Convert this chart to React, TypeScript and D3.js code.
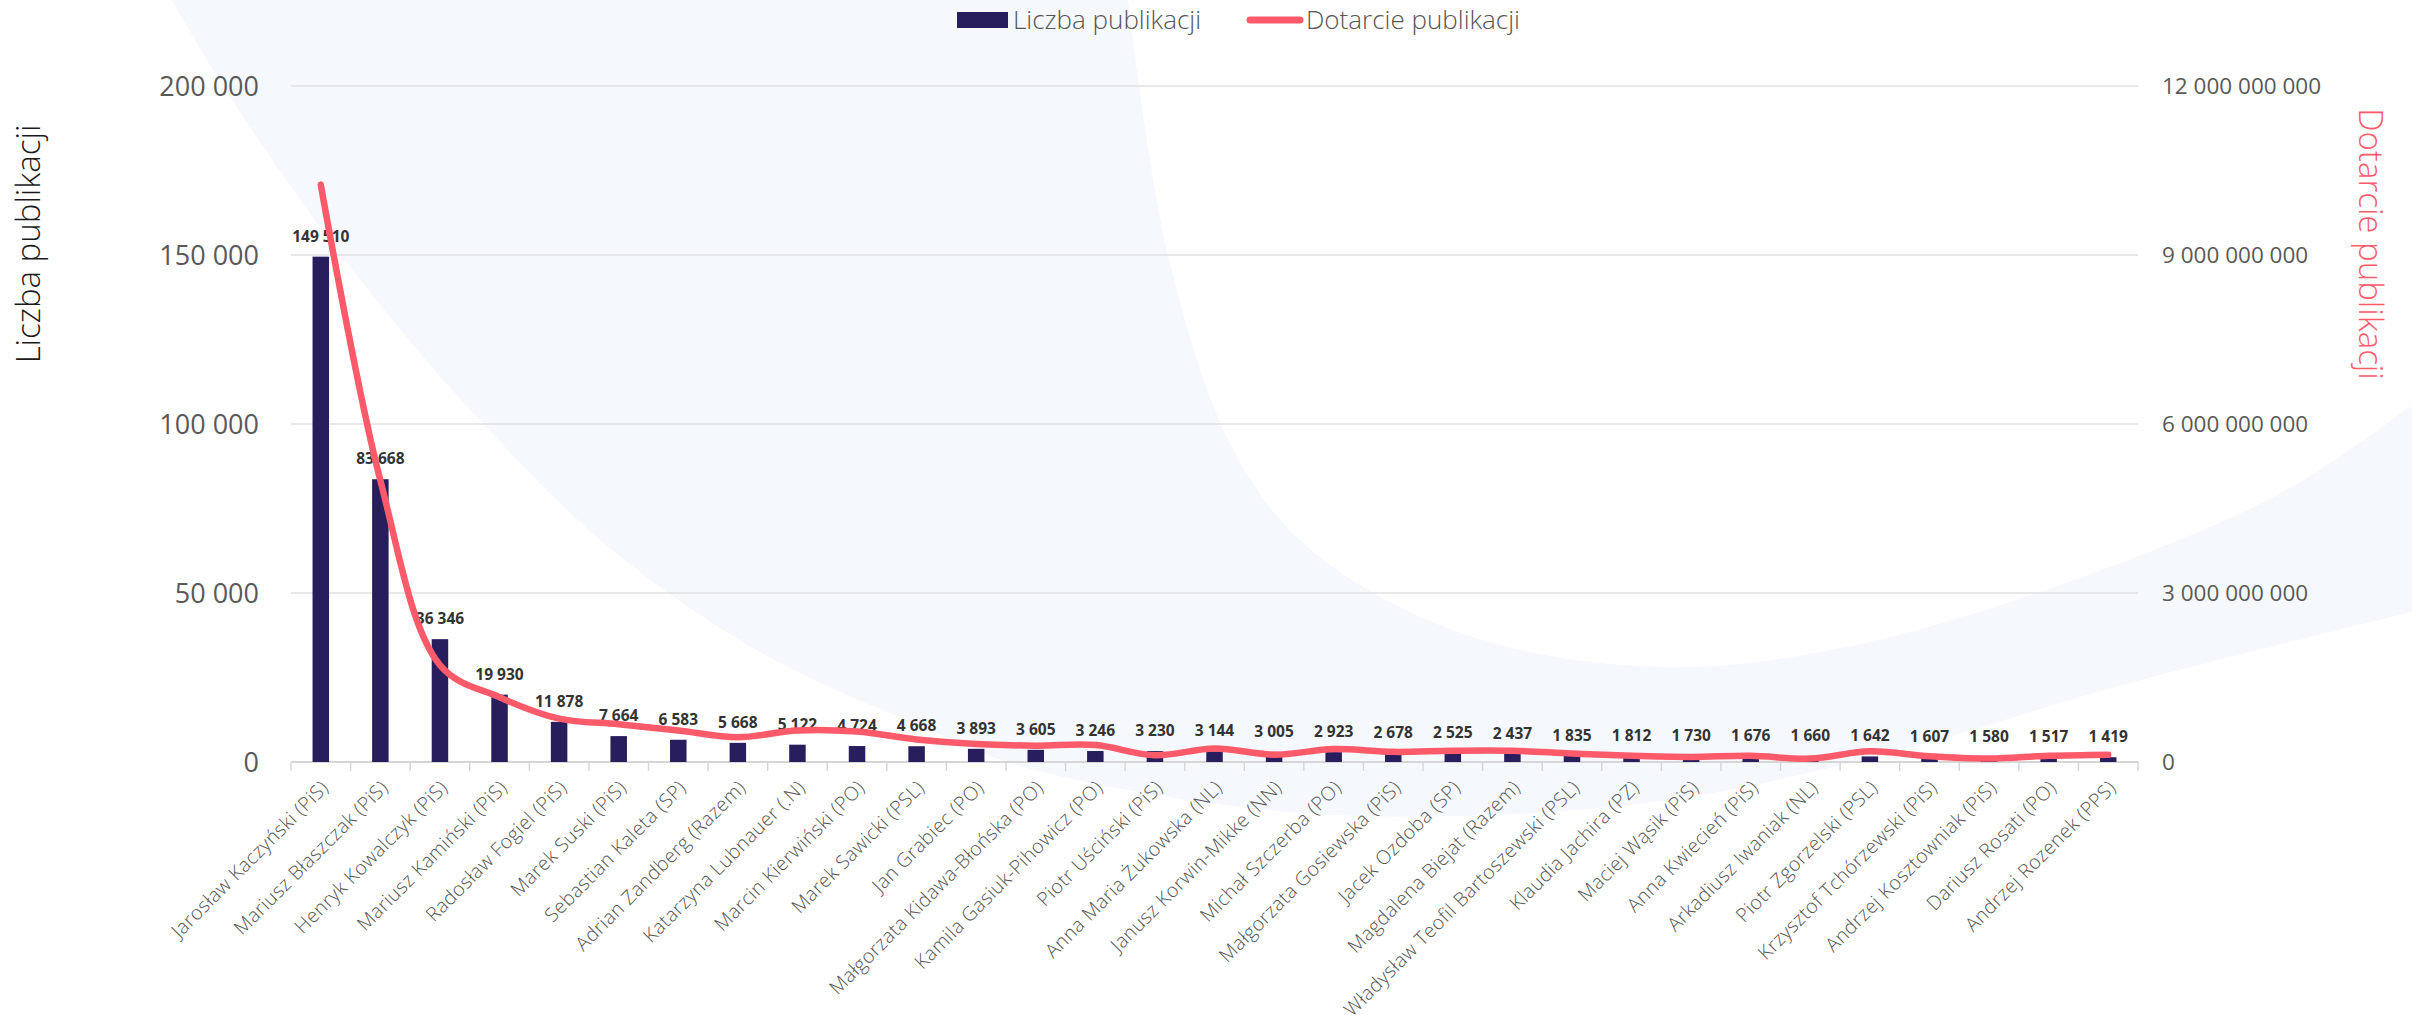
import React from "react";
import * as d3 from "d3";

const names = [
  "Jarosław Kaczyński (PiS)",
  "Mariusz Błaszczak (PiS)",
  "Henryk Kowalczyk (PiS)",
  "Mariusz Kamiński (PiS)",
  "Radosław Fogiel (PiS)",
  "Marek Suski (PiS)",
  "Sebastian Kaleta (SP)",
  "Adrian Zandberg (Razem)",
  "Katarzyna Lubnauer (.N)",
  "Marcin Kierwiński (PO)",
  "Marek Sawicki (PSL)",
  "Jan Grabiec (PO)",
  "Małgorzata Kidawa-Błońska (PO)",
  "Kamila Gasiuk-Pihowicz (PO)",
  "Piotr Uściński (PiS)",
  "Anna Maria Żukowska (NL)",
  "Janusz Korwin-Mikke (NN)",
  "Michał Szczerba (PO)",
  "Małgorzata Gosiewska (PiS)",
  "Jacek Ozdoba (SP)",
  "Magdalena Biejat (Razem)",
  "Władysław Teofil Bartoszewski (PSL)",
  "Klaudia Jachira (PZ)",
  "Maciej Wąsik (PiS)",
  "Anna Kwiecień (PiS)",
  "Arkadiusz Iwaniak (NL)",
  "Piotr Zgorzelski (PSL)",
  "Krzysztof Tchórzewski (PiS)",
  "Andrzej Kosztowniak (PiS)",
  "Dariusz Rosati (PO)",
  "Andrzej Rozenek (PPS)",
];

const publications = [
  149510, 83668, 36346, 19930, 11878, 7664, 6583, 5668, 5122, 4724, 4668, 3893,
  3605, 3246, 3230, 3144, 3005, 2923, 2678, 2525, 2437, 1835, 1812, 1730, 1676,
  1660, 1642, 1607, 1580, 1517, 1419,
];

const reach = [
  10.25e9, 5.0e9, 1.72e9, 1.15e9, 0.77e9, 0.67e9, 0.56e9, 0.44e9, 0.56e9, 0.54e9,
  0.4e9, 0.32e9, 0.29e9, 0.3e9, 0.12e9, 0.24e9, 0.13e9, 0.23e9, 0.18e9, 0.2e9,
  0.2e9, 0.15e9, 0.11e9, 0.09e9, 0.11e9, 0.06e9, 0.19e9, 0.1e9, 0.06e9, 0.11e9,
  0.13e9,
];

const leftTicks = [0, 50000, 100000, 150000, 200000];
const rightTicks = [0, 3e9, 6e9, 9e9, 12e9];
const seriesNames = ["Liczba publikacji", "Dotarcie publikacji"];

// decorative background curves
const bgOuter: [number, number][] = [
  [172, 0], [230, 97], [344, 259], [474, 414], [612, 550], [765, 655], [918, 725],
  [1027, 768], [1268, 810], [1464, 816], [1683, 798], [1901, 750], [2119, 686], [2412, 612],
];
const bgInner: [number, number][] = [
  [2412, 405], [2283, 492], [2065, 583], [1846, 647], [1661, 667], [1464, 634],
  [1311, 550], [1235, 453], [1169, 259], [1128, 0],
];

const W = 2412;
const H = 1015;
const M = { left: 291, right: 2138, top: 86, bottom: 762 };
const BAR = "#281E5D";
const LINE = "#FF5A6A";
const FONT = "'Open Sans', 'Noto Sans', sans-serif";

const fmt = d3
  .formatLocale({ decimal: ",", thousands: " ", grouping: [3], currency: ["", ""] })
  .format(",.0f");

export default function App() {
  const x = d3.scaleBand<string>().domain(names).range([M.left, M.right]).padding(0);
  const yL = d3.scaleLinear().domain([0, 200000]).range([M.bottom, M.top]);
  const yR = d3.scaleLinear().domain([0, 12e9]).range([M.bottom, M.top]);
  const bw = x.bandwidth();
  const barW = bw * 0.277;
  const cx = (n: string) => (x(n) as number) + bw / 2;

  const linePath =
    d3
      .line<number>()
      .x((_, i) => cx(names[i]))
      .y((v) => yR(v))
      .curve(d3.curveCatmullRom.alpha(0.5))(reach) || "";

  const outer = d3.line().curve(d3.curveCatmullRom.alpha(0.5))(bgOuter) || "";
  const inner = d3.line().curve(d3.curveCatmullRom.alpha(0.5))(bgInner) || "";
  const bgPath = outer + "L" + inner.slice(1) + "Z";

  const boundaries = d3.range(names.length + 1).map((i) => M.left + i * bw);

  return (
    <svg
      width={W}
      height={H}
      style={{ position: "fixed", left: 0, top: 0, background: "#fff" }}
      fontFamily={FONT}
    >
      <path d={bgPath} fill="#F5F9FE" />

      {/* gridlines */}
      {leftTicks.map((t) => (
        <line
          key={"g" + t}
          x1={M.left}
          x2={M.right}
          y1={yL(t)}
          y2={yL(t)}
          stroke={t === 0 ? "#d6d6d6" : "#e0e0e0"}
          strokeWidth={t === 0 ? 2 : 1.5}
        />
      ))}
      {boundaries.map((b, i) => (
        <line key={"t" + i} x1={b} x2={b} y1={M.bottom} y2={M.bottom + 9} stroke="#d6d6d6" strokeWidth={1.5} />
      ))}

      {/* left ticks */}
      {leftTicks.map((t) => (
        <text
          key={"l" + t}
          x={259}
          y={yL(t)}
          dy="0.36em"
          textAnchor="end"
          fontSize={27}
          fill="#595959"
        >
          {fmt(t)}
        </text>
      ))}
      {/* right ticks */}
      {rightTicks.map((t) => (
        <text key={"r" + t} x={2162} y={yR(t)} dy="0.36em" fontSize={22.5} fill="#595959">
          {fmt(t)}
        </text>
      ))}

      {/* axis titles */}
      <text
        transform={`translate(40, 244) rotate(-90)`}
        textAnchor="middle"
        fontSize={33}
        fontWeight={300}
        fill="#1a1a1a"
      >
        {seriesNames[0]}
      </text>
      <text
        transform={`translate(2359, 244) rotate(90)`}
        textAnchor="middle"
        fontSize={33}
        fontWeight={300}
        fill={LINE}
      >
        {seriesNames[1]}
      </text>

      {/* bars */}
      {names.map((n, i) => (
        <rect
          key={"b" + i}
          x={cx(n) - barW / 2}
          y={yL(publications[i])}
          width={barW}
          height={M.bottom - yL(publications[i])}
          fill={BAR}
        />
      ))}

      {/* bar labels */}
      {names.map((n, i) => (
        <text
          key={"v" + i}
          x={cx(n)}
          y={yL(publications[i]) - 15}
          textAnchor="middle"
          fontSize={15.5}
          fontWeight={700}
          fill="#333"
        >
          {fmt(publications[i])}
        </text>
      ))}

      {/* line */}
      <path d={linePath} fill="none" stroke={LINE} strokeWidth={6.5} strokeLinecap="round" strokeLinejoin="round" />

      {/* x labels */}
      {names.map((n, i) => (
        <text
          key={"x" + i}
          transform={`translate(${cx(n) + 4}, 784) rotate(-45)`}
          textAnchor="end"
          dy="0.35em"
          fontSize={19.5}
          fontWeight={300}
          letterSpacing={0.4}
          fill="#555"
        >
          {n}
        </text>
      ))}

      {/* legend */}
      <rect x={957} y={12} width={51} height={16} fill={BAR} />
      <text x={1013} y={29} fontSize={26} fontWeight={300} fill="#555">
        {seriesNames[0]}
      </text>
      <line x1={1250} x2={1300} y1={20} y2={20} stroke={LINE} strokeWidth={7} strokeLinecap="round" />
      <text x={1306} y={29} fontSize={26} fontWeight={300} fill="#555">
        {seriesNames[1]}
      </text>
    </svg>
  );
}
